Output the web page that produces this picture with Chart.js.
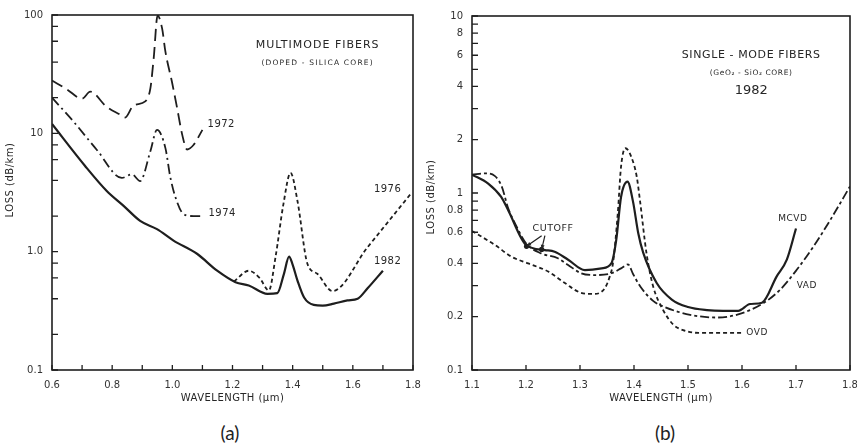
<!DOCTYPE html>
<html>
<head>
<meta charset="utf-8">
<script src="https://cdn.jsdelivr.net/npm/chart.js@4.4.0/dist/chart.umd.min.js"></script>
<style>
  body { margin: 0; background: #fff; width: 857px; height: 446px; position: relative; overflow: hidden; }
  #panelA { position: absolute; left: 0; top: 0; }
  #panelB { position: absolute; left: 424px; top: 0; }
  .cap { position: absolute; top: 421px; width: 60px; text-align: center; font: 19px Lato, "Open Sans", sans-serif; color: #222; line-height: 24px; }
</style>
</head>
<body>
<canvas id="panelA" width="430" height="410"></canvas>
<canvas id="panelB" width="446" height="410"></canvas>
<div class="cap" style="left:200px">(a)</div>
<div class="cap" style="left:635px">(b)</div>
<script>
const ink = '#1e1e1e'
const fontFamily = '"DejaVu Sans", sans-serif'

// (a) multimode fibers - wavelength in um, loss in dB/km
const wl1972 = [0.60, 0.65, 0.70, 0.727, 0.78, 0.826, 0.843, 0.871, 0.91, 0.927, 0.938, 0.951, 0.966, 0.977, 0.999, 1.016, 1.033, 1.049, 1.071, 1.10]
const loss1972 = [28, 23.5, 19.6, 22.5, 16.9, 14.4, 13.6, 17.2, 18.6, 24, 43, 99, 77, 49, 27, 16.3, 9.7, 7.3, 8.0, 10.7]
const wl1974 = [0.60, 0.67, 0.75, 0.832, 0.866, 0.893, 0.927, 0.949, 0.977, 0.993, 1.01, 1.038, 1.07, 1.10]
const loss1974 = [20, 12.7, 7.2, 4.2, 4.5, 3.95, 7.06, 10.7, 7.5, 4.3, 2.9, 2.07, 2.0, 2.0]
const wl1976 = [1.205, 1.254, 1.29, 1.321, 1.343, 1.369, 1.393, 1.416, 1.449, 1.482, 1.532, 1.649, 1.793]
const loss1976 = [0.56, 0.69, 0.6, 0.47, 0.9, 2.5, 4.64, 2.68, 0.79, 0.65, 0.464, 1.09, 3.09]
const wl1982a = [0.60, 0.71, 0.782, 0.838, 0.893, 0.949, 1.004, 1.082, 1.149, 1.21, 1.254, 1.316, 1.349, 1.371, 1.388, 1.399, 1.416, 1.438, 1.47, 1.50, 1.537, 1.582, 1.616, 1.649, 1.70]
const loss1982a = [12, 5.3, 3.26, 2.44, 1.82, 1.55, 1.24, 0.96, 0.69, 0.552, 0.518, 0.44, 0.446, 0.65, 0.908, 0.79, 0.57, 0.41, 0.355, 0.35, 0.364, 0.387, 0.40, 0.49, 0.69]

const xTickValsA = [0.6, 0.7, 0.8, 0.9, 1.0, 1.1, 1.2, 1.3, 1.4, 1.5, 1.6, 1.7, 1.8]
const xLabelValsA = [0.6, 0.8, 1.0, 1.2, 1.4, 1.6, 1.8]
const xLabelTextA = ['0.6', '0.8', '1.0', '1.2', '1.4', '1.6', '1.8']
const yTickValsA = [0.1, 0.2, 0.4, 0.6, 0.8, 1, 2, 4, 6, 8, 10, 20, 40, 60, 80, 100]
const yLabelValsA = [0.1, 1, 10, 100]
const yLabelTextA = ['0.1', '1.0', '10', '100']

// (b) single-mode fibers, 1982
const wlMcvd = [1.10, 1.13, 1.154, 1.167, 1.20, 1.235, 1.253, 1.278, 1.309, 1.34, 1.358, 1.367, 1.376, 1.388, 1.398, 1.408, 1.417, 1.442, 1.47, 1.50, 1.535, 1.565, 1.593, 1.615, 1.637, 1.664, 1.683, 1.70]
const lossMcvd = [1.27, 1.13, 0.95, 0.80, 0.51, 0.476, 0.466, 0.42, 0.367, 0.375, 0.40, 0.54, 0.95, 1.16, 0.90, 0.59, 0.46, 0.31, 0.25, 0.227, 0.218, 0.216, 0.216, 0.236, 0.24, 0.337, 0.42, 0.63]
const wlVad = [1.10, 1.125, 1.142, 1.155, 1.167, 1.18, 1.20, 1.228, 1.259, 1.278, 1.302, 1.327, 1.358, 1.376, 1.389, 1.398, 1.412, 1.436, 1.455, 1.504, 1.553, 1.59, 1.639, 1.67, 1.701, 1.732, 1.763, 1.80]
const lossVad = [1.27, 1.29, 1.25, 1.09, 0.82, 0.67, 0.52, 0.456, 0.428, 0.392, 0.352, 0.344, 0.352, 0.375, 0.395, 0.35, 0.295, 0.245, 0.228, 0.205, 0.198, 0.205, 0.238, 0.283, 0.367, 0.497, 0.70, 1.09]
const wlOvd = [1.10, 1.142, 1.173, 1.204, 1.241, 1.272, 1.302, 1.327, 1.346, 1.355, 1.361, 1.37, 1.376, 1.384, 1.395, 1.405, 1.411, 1.423, 1.435, 1.454, 1.473, 1.491, 1.52, 1.60]
const lossOvd = [0.61, 0.51, 0.437, 0.40, 0.36, 0.31, 0.273, 0.269, 0.29, 0.337, 0.40, 0.77, 1.41, 1.79, 1.6, 1.24, 0.91, 0.46, 0.30, 0.218, 0.18, 0.168, 0.162, 0.162]
const wlCutoff = [1.201, 1.229]
const lossCutoff = [0.50, 0.48]

const xTickValsB = [1.1, 1.2, 1.3, 1.4, 1.5, 1.6, 1.7, 1.8]
const xLabelTextB = ['1.1', '1.2', '1.3', '1.4', '1.5', '1.6', '1.7', '1.8']
const yTickValsB = [0.1, 0.2, 0.3, 0.4, 0.5, 0.6, 0.7, 0.8, 0.9, 1, 2, 3, 4, 5, 6, 7, 8, 9, 10]
const yLabelValsB = [0.1, 0.2, 0.4, 0.6, 0.8, 1, 2, 4, 6, 8, 10]
const yLabelTextB = ['0.1', '0.2', '0.4', '0.6', '0.8', '1', '2', '4', '6', '8', '10']

function zip(xs, ys) {
    return xs.map(function(x, i) { return { x: x, y: ys[i] } })
}

function lookup(vals, texts) {
    return function(value) {
        let i = vals.findIndex(function(v) { return Math.abs(v - value) < 1e-6 })
        return i < 0 ? '' : texts[i]
    }
}

function curve(xs, ys, dash, width) {
    return {
        data: zip(xs, ys),
        borderColor: ink,
        borderWidth: width || 1.8,
        borderDash: dash || [],
        pointRadius: 0,
        cubicInterpolationMode: 'monotone',
        fill: false
    }
}

function setText(ctx, size, spacing) {
    ctx.font = size + 'px ' + fontFamily
    ctx.letterSpacing = (spacing || 0) + 'px'
}

// frame, inward tick marks, labels on the curves and axis titles
const paperPlugin = {
    id: 'paper',
    afterDraw(chart, args, opts) {
        const ctx = chart.ctx
        const a = chart.chartArea
        const x = chart.scales.x
        const y = chart.scales.y
        ctx.save()
        ctx.strokeStyle = ink
        ctx.lineWidth = 1.6
        ctx.strokeRect(a.left, a.top, a.right - a.left, a.bottom - a.top)

        ctx.lineWidth = 1.3
        ctx.beginPath()
        x.ticks.forEach(function(t) {
            let px = x.getPixelForValue(t.value)
            ctx.moveTo(px, a.bottom)
            ctx.lineTo(px, a.bottom - 5)
        })
        y.ticks.forEach(function(t) {
            let py = y.getPixelForValue(t.value)
            ctx.moveTo(a.left, py)
            ctx.lineTo(a.left + 6, py)
        })
        ctx.stroke()

        ctx.fillStyle = '#262626'
        ctx.textBaseline = 'middle'
        opts.notes.forEach(function(n) {
            setText(ctx, n.size, n.spacing)
            ctx.textAlign = n.align || 'center'
            ctx.fillText(n.text, x.getPixelForValue(n.x), y.getPixelForValue(n.y))
        })

        // arrows from a label to marked points
        ;(opts.arrows || []).forEach(function(ar) {
            let x0 = x.getPixelForValue(ar.from[0]), y0 = y.getPixelForValue(ar.from[1])
            let x1 = x.getPixelForValue(ar.to[0]), y1 = y.getPixelForValue(ar.to[1])
            let ang = Math.atan2(y1 - y0, x1 - x0)
            ctx.lineWidth = 1.2
            ctx.beginPath()
            ctx.moveTo(x0, y0)
            ctx.lineTo(x1, y1)
            ctx.stroke()
            ctx.beginPath()
            ctx.moveTo(x1, y1)
            ctx.lineTo(x1 - 5 * Math.cos(ang - 0.4), y1 - 5 * Math.sin(ang - 0.4))
            ctx.lineTo(x1 - 5 * Math.cos(ang + 0.4), y1 - 5 * Math.sin(ang + 0.4))
            ctx.closePath()
            ctx.fill()
        })

        setText(ctx, 10, 0.5)
        ctx.textAlign = 'center'
        ctx.fillText(opts.xTitle, (a.left + a.right) / 2, a.bottom + 28)

        ctx.translate(opts.yTitleX, opts.yTitleY)
        ctx.rotate(-Math.PI / 2)
        ctx.fillText(opts.yTitle, 0, 0)
        ctx.restore()
    }
}

function scaleOptions(cfg) {
    return {
        x: {
            type: 'linear',
            min: cfg.xMin,
            max: cfg.xMax,
            afterBuildTicks: function(s) { s.ticks = cfg.xTicks.map(function(v) { return { value: v } }) },
            afterFit: function(s) { s.height = 40 },
            grid: { display: false, drawTicks: false },
            border: { display: false },
            ticks: { autoSkip: false, maxRotation: 0, padding: 9, color: '#333', font: { family: fontFamily, size: 10 }, callback: cfg.xLabel }
        },
        y: {
            type: 'logarithmic',
            min: cfg.yMin,
            max: cfg.yMax,
            afterBuildTicks: function(s) { s.ticks = cfg.yTicks.map(function(v) { return { value: v } }) },
            afterFit: function(s) { s.width = cfg.yWidth },
            grid: { display: false, drawTicks: false },
            border: { display: false },
            ticks: { autoSkip: false, padding: 9, color: '#333', font: { family: fontFamily, size: 10 }, callback: cfg.yLabel }
        }
    }
}

const commonPlugins = { legend: { display: false }, tooltip: { enabled: false } }

new Chart(document.getElementById('panelA').getContext('2d'), {
    type: 'line',
    data: {
        datasets: [
            curve(wl1972, loss1972, [12, 6]),
            curve(wl1974, loss1974, [10, 4, 2, 4]),
            curve(wl1976, loss1976, [4, 3]),
            curve(wl1982a, loss1982a, [], 2.2)
        ]
    },
    options: {
        responsive: false,
        animation: false,
        layout: { padding: { left: 0, top: 13, right: 17, bottom: 0 } },
        scales: scaleOptions({
            xMin: 0.6, xMax: 1.8, xTicks: xTickValsA, xLabel: lookup(xLabelValsA, xLabelTextA),
            yMin: 0.1, yMax: 100, yTicks: yTickValsA, yLabel: lookup(yLabelValsA, yLabelTextA), yWidth: 52
        }),
        plugins: Object.assign({}, commonPlugins, {
            paper: {
                xTitle: 'WAVELENGTH (\u00b5m)',
                yTitle: 'LOSS (dB/km)',
                yTitleX: 10, yTitleY: 180,
                notes: [
                    { text: 'MULTIMODE FIBERS', x: 1.483, y: 56, size: 11, spacing: 1 },
                    { text: '(DOPED - SILICA CORE)', x: 1.483, y: 39.5, size: 7.5, spacing: 1.2 },
                    { text: '1972', x: 1.117, y: 11.9, size: 10, spacing: 0.5, align: 'left' },
                    { text: '1974', x: 1.12, y: 2.09, size: 10, spacing: 0.5, align: 'left' },
                    { text: '1976', x: 1.67, y: 3.38, size: 10, spacing: 0.5, align: 'left' },
                    { text: '1982', x: 1.67, y: 0.82, size: 10, spacing: 0.5, align: 'left' }
                ]
            }
        })
    },
    plugins: [paperPlugin]
})

let cutoffSet = {
    data: zip(wlCutoff, lossCutoff),
    showLine: false,
    pointRadius: 2.6,
    pointBackgroundColor: ink,
    pointBorderWidth: 0
}

new Chart(document.getElementById('panelB').getContext('2d'), {
    type: 'line',
    data: {
        datasets: [
            curve(wlMcvd, lossMcvd, [], 2.2),
            curve(wlVad, lossVad, [9, 3, 3, 3]),
            curve(wlOvd, lossOvd, [4, 3]),
            cutoffSet
        ]
    },
    options: {
        responsive: false,
        animation: false,
        layout: { padding: { left: 0, top: 16, right: 20, bottom: 0 } },
        scales: scaleOptions({
            xMin: 1.1, xMax: 1.8, xTicks: xTickValsB, xLabel: lookup(xTickValsB, xLabelTextB),
            yMin: 0.1, yMax: 10, yTicks: yTickValsB, yLabel: lookup(yLabelValsB, yLabelTextB), yWidth: 48
        }),
        plugins: Object.assign({}, commonPlugins, {
            paper: {
                xTitle: 'WAVELENGTH (\u00b5m)',
                yTitle: 'LOSS (dB/km)',
                yTitleX: 7, yTitleY: 197,
                notes: [
                    { text: 'SINGLE - MODE FIBERS', x: 1.617, y: 6.0, size: 11, spacing: 0.6 },
                    { text: '(GeO\u2082 - SiO\u2082 CORE)', x: 1.617, y: 4.76, size: 7.5, spacing: 0.6 },
                    { text: '1982', x: 1.617, y: 3.77, size: 13, spacing: 0 },
                    { text: 'CUTOFF', x: 1.25, y: 0.626, size: 9.5, spacing: 0.5 },
                    { text: 'MCVD', x: 1.694, y: 0.72, size: 9, spacing: 0.5 },
                    { text: 'VAD', x: 1.72, y: 0.30, size: 9, spacing: 0.5 },
                    { text: 'OVD', x: 1.628, y: 0.162, size: 9, spacing: 0.5 }
                ],
                arrows: [
                    { from: [1.229, 0.574], to: [wlCutoff[0], lossCutoff[0]] },
                    { from: [1.235, 0.574], to: [wlCutoff[1], lossCutoff[1]] }
                ]
            }
        })
    },
    plugins: [paperPlugin]
})
</script>
</body>
</html>
